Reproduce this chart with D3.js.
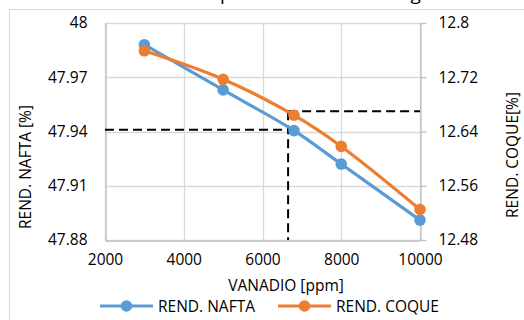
<!DOCTYPE html>
<html>
<head>
<meta charset="utf-8">
<script src="https://cdn.jsdelivr.net/npm/d3@7"></script>
<style>
  body { margin: 0; background: #fff; }
  svg { display: block; font-family: "Open Sans", sans-serif; }
</style>
</head>
<body>
<div id="chart"></div>
<script>
// Data
const vanadio = [3000, 5000, 6800, 8000, 10000];
const rendNafta = [47.988, 47.963, 47.9405, 47.922, 47.891];
const rendCoque = [12.759, 12.717, 12.664, 12.618, 12.525];

const xTicks = [2000, 4000, 6000, 8000, 10000];
const naftaTicks = [47.88, 47.91, 47.94, 47.97, 48];
const coqueTicks = [12.48, 12.56, 12.64, 12.72, 12.8];

// guide (dashed) lines
const guideVanadio = 6650;
const guideNafta = 47.941;
const guideCoque = 12.670;

const width = 524, height = 320;
const margin = { top: 23, right: 104, bottom: 80, left: 105 };

const svg = d3.select("#chart").append("svg")
    .attr("width", width)
    .attr("height", height);

// chart frame
svg.append("rect")
    .attr("x", 9.5).attr("y", 9.5)
    .attr("width", width + 20).attr("height", height + 20)
    .attr("fill", "none")
    .attr("stroke", "#d9d9d9");

// title (mostly cut off at the top)
svg.append("text")
    .attr("x", 262)
    .attr("y", 0)
    .attr("text-anchor", "middle")
    .style("font-size", "19px")
    .attr("fill", "#000")
    .text("Rendimientos por Vanadio en la Carga");

const x = d3.scaleLinear()
    .domain([2000, 10000])
    .range([margin.left, width - margin.right]);

const yL = d3.scaleLinear()
    .domain([47.88, 48])
    .range([height - margin.bottom, margin.top]);

const yR = d3.scaleLinear()
    .domain([12.48, 12.8])
    .range([height - margin.bottom, margin.top]);

const x0 = margin.left, x1 = width - margin.right;
const y0 = height - margin.bottom, y1 = margin.top;

// gridlines
svg.append("g")
    .selectAll("line")
    .data(naftaTicks)
    .join("line")
    .attr("x1", x0).attr("x2", x1)
    .attr("y1", d => Math.round(yL(d)) + 0.5)
    .attr("y2", d => Math.round(yL(d)) + 0.5)
    .attr("stroke", "#d9d9d9")
    .attr("stroke-width", 1.3);

svg.append("g")
    .selectAll("line")
    .data(xTicks)
    .join("line")
    .attr("x1", d => Math.round(x(d)) + 0.5)
    .attr("x2", d => Math.round(x(d)) + 0.5)
    .attr("y1", y1).attr("y2", y0)
    .attr("stroke", "#d9d9d9")
    .attr("stroke-width", 1.3);

// axes
const axisColor = "#bfbfbf";
const fontSize = "15.5px";

const bottomAxis = svg.append("g")
    .attr("transform", `translate(0,${Math.round(y0) + 0.5})`)
    .call(d3.axisBottom(x).tickValues(xTicks).tickSize(0).tickPadding(13).tickFormat(d3.format("d")));
bottomAxis.select(".domain").attr("stroke", axisColor).attr("stroke-width", 1.3);

const leftAxis = svg.append("g")
    .attr("transform", `translate(${Math.round(x0) + 0.5},0)`)
    .call(d3.axisLeft(yL).tickValues(naftaTicks).tickSize(0).tickPadding(18)
        .tickFormat(d => d === 48 ? "48" : d3.format(".2f")(d)));
leftAxis.select(".domain").attr("stroke", axisColor).attr("stroke-width", 1.3);

const rightAxis = svg.append("g")
    .attr("transform", `translate(${Math.round(x1) + 0.5},0)`)
    .call(d3.axisRight(yR).tickValues(coqueTicks).tickSize(6).tickSizeOuter(0).tickPadding(12)
        .tickFormat(d => d === 12.8 ? "12.8" : d3.format(".2f")(d)));
rightAxis.select(".domain").attr("stroke", axisColor).attr("stroke-width", 1.3);
rightAxis.selectAll(".tick line").attr("stroke", axisColor).attr("stroke-width", 1.3);

svg.selectAll(".tick text")
    .style("font-size", fontSize)
    .style("font-family", "'Open Sans', sans-serif")
    .attr("fill", "#000");

// axis titles
svg.append("text")
    .attr("x", 286)
    .attr("y", 291)
    .attr("text-anchor", "middle")
    .style("font-size", fontSize)
    .text("VANADIO [ppm]");

svg.append("text")
    .attr("transform", "translate(31,167) rotate(-90)")
    .attr("text-anchor", "middle")
    .style("font-size", fontSize)
    .text("REND. NAFTA [%]");

svg.append("text")
    .attr("transform", "translate(518,155) rotate(-90)")
    .attr("text-anchor", "middle")
    .style("font-size", fontSize)
    .text("REND. COQUE[%]");

// dashed guide lines
const dash = "9,5";
svg.append("line")
    .attr("x1", x0).attr("x2", x(guideVanadio))
    .attr("y1", yL(guideNafta)).attr("y2", yL(guideNafta))
    .attr("stroke", "#000").attr("stroke-width", 2).attr("stroke-dasharray", dash);
svg.append("line")
    .attr("x1", x(guideVanadio)).attr("x2", x1)
    .attr("y1", yR(guideCoque)).attr("y2", yR(guideCoque))
    .attr("stroke", "#000").attr("stroke-width", 2).attr("stroke-dasharray", dash);
svg.append("line")
    .attr("x1", x(guideVanadio)).attr("x2", x(guideVanadio))
    .attr("y1", yR(guideCoque)).attr("y2", y0)
    .attr("stroke", "#000").attr("stroke-width", 2).attr("stroke-dasharray", dash);

// series
const series = [
    { name: "REND. NAFTA", values: rendNafta, y: yL, color: "#5b9bd5" },
    { name: "REND. COQUE", values: rendCoque, y: yR, color: "#ed7d31" }
];

series.forEach(s => {
    const pts = vanadio.map((v, i) => [x(v), s.y(s.values[i])]);
    svg.append("path")
        .attr("d", d3.line().curve(d3.curveCatmullRom.alpha(0.5))(pts))
        .attr("fill", "none")
        .attr("stroke", s.color)
        .attr("stroke-width", 3.2)
        .attr("stroke-linejoin", "round");
    svg.append("g")
        .selectAll("circle")
        .data(pts)
        .join("circle")
        .attr("cx", d => d[0])
        .attr("cy", d => d[1])
        .attr("r", 5.8)
        .attr("fill", s.color);
});

// legend
const legendItems = [
    { name: "REND. NAFTA", color: "#5b9bd5", x: 100 },
    { name: "REND. COQUE", color: "#ed7d31", x: 278 }
];
const legend = svg.append("g");
legendItems.forEach(d => {
    legend.append("line")
        .attr("x1", d.x).attr("x2", d.x + 53)
        .attr("y1", 306).attr("y2", 306)
        .attr("stroke", d.color).attr("stroke-width", 3.2);
    legend.append("circle")
        .attr("cx", d.x + 26.5).attr("cy", 306).attr("r", 5.8)
        .attr("fill", d.color);
    legend.append("text")
        .attr("x", d.x + 58)
        .attr("y", 312)
        .style("font-size", fontSize)
        .text(d.name);
});
</script>
</body>
</html>
